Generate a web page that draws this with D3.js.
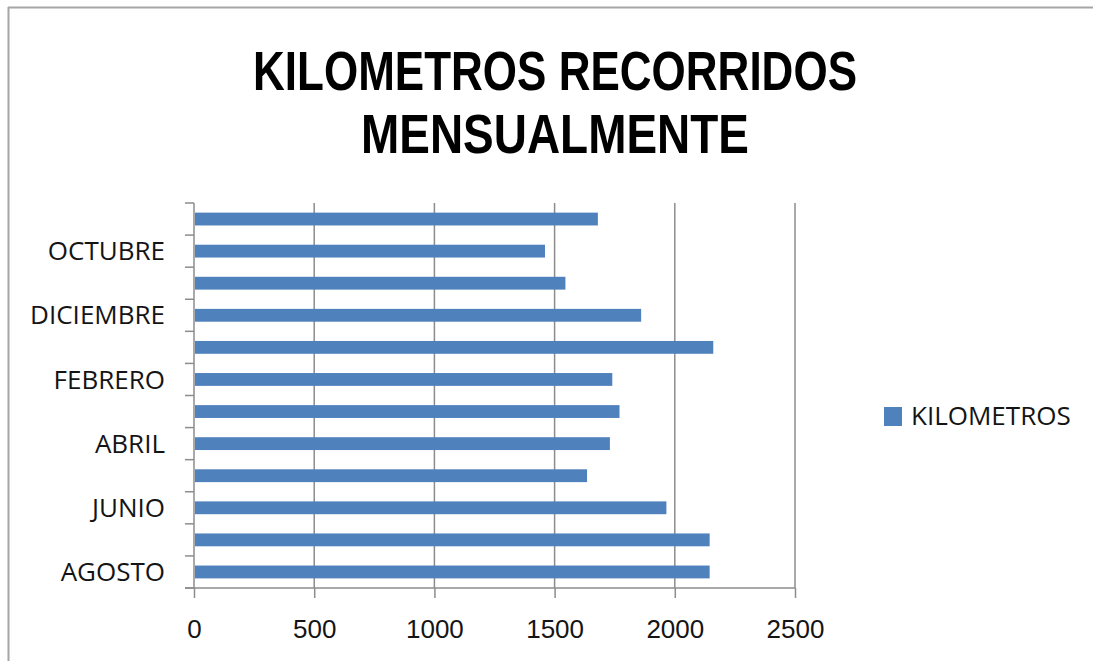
<!DOCTYPE html>
<html>
<head>
<meta charset="utf-8">
<script src="https://cdn.jsdelivr.net/npm/d3@7"></script>
<style>
  html, body { margin: 0; padding: 0; background: #fff; }
  svg { display: block; }
</style>
</head>
<body>
<svg id="chart" width="1093" height="661"></svg>
<script>
// ---- DATA ----
const months = ["SEPTIEMBRE","OCTUBRE","NOVIEMBRE","DICIEMBRE","ENERO","FEBRERO",
                "MARZO","ABRIL","MAYO","JUNIO","JULIO","AGOSTO"];
const kilometros = [1680, 1460, 1545, 1860, 2160, 1740, 1770, 1730, 1635, 1965, 2145, 2145];
const shownLabels = ["OCTUBRE","DICIEMBRE","FEBRERO","ABRIL","JUNIO","AGOSTO"];
const xTicks = [0, 500, 1000, 1500, 2000, 2500];
const titleLines = ["KILOMETROS RECORRIDOS", "MENSUALMENTE"];
const seriesName = "KILOMETROS";

// ---- LAYOUT ----
const svg = d3.select("#chart");
const W = 1093, H = 661;
const plot = { left: 194, right: 795, top: 203, bottom: 588 };
const barColor = "#4F81BD";
const gridColor = "#8c8c8c";
const textColor = "#141414";

// Outer frame (top and left borders)
svg.append("line").attr("x1", 8).attr("x2", W).attr("y1", 7.5).attr("y2", 7.5)
  .attr("stroke", "#a6a6a6").attr("stroke-width", 2);
svg.append("line").attr("x1", 8.5).attr("x2", 8.5).attr("y1", 7).attr("y2", H)
  .attr("stroke", "#a6a6a6").attr("stroke-width", 2);

// Title
const titleG = svg.append("g");
const titleWidths = [604, 388];
titleLines.forEach((t, i) => {
  titleG.append("text")
    .attr("x", 555).attr("y", 90 + i * 63)
    .attr("text-anchor", "middle")
    .attr("font-family", "'Liberation Sans', Arial, sans-serif")
    .attr("font-weight", "bold")
    .attr("font-size", 55)
    .attr("fill", "#000")
    .attr("textLength", titleWidths[i])
    .attr("lengthAdjust", "spacingAndGlyphs")
    .text(t);
});

// Scales
const x = d3.scaleLinear().domain([0, 2500]).range([plot.left, plot.right]);
const y = d3.scaleBand().domain(months).range([plot.top, plot.bottom])
  .paddingInner(0.6).paddingOuter(0.3);
const step = y.step();

// Gridlines
svg.append("g").selectAll("line")
  .data(xTicks.filter(d => d > 0))
  .join("line")
  .attr("x1", d => x(d)).attr("x2", d => x(d))
  .attr("y1", plot.top).attr("y2", plot.bottom)
  .attr("stroke", gridColor).attr("stroke-width", 1.5);

// Bars
svg.append("g").selectAll("rect")
  .data(months.map((m, i) => ({ m, v: kilometros[i] })))
  .join("rect")
  .attr("x", x(0) + 1)
  .attr("y", d => y(d.m))
  .attr("width", d => x(d.v) - x(0) - 1)
  .attr("height", y.bandwidth())
  .attr("fill", barColor);

// Y axis line and ticks (at category boundaries)
svg.append("line").attr("x1", x(0)).attr("x2", x(0))
  .attr("y1", plot.top).attr("y2", plot.bottom)
  .attr("stroke", gridColor).attr("stroke-width", 1.5);
const boundaries = months.map(m => y(m) + y.bandwidth() / 2 - step / 2)
  .concat([y(months[months.length - 1]) + y.bandwidth() / 2 + step / 2]);
svg.append("g").selectAll("line")
  .data(boundaries)
  .join("line")
  .attr("x1", x(0) - 9).attr("x2", x(0))
  .attr("y1", d => d).attr("y2", d => d)
  .attr("stroke", gridColor).attr("stroke-width", 1.5);

// Y labels
svg.append("g").selectAll("text")
  .data(shownLabels)
  .join("text")
  .attr("x", 165)
  .attr("y", d => y(d) + y.bandwidth() / 2)
  .attr("dy", "0.35em")
  .attr("text-anchor", "end")
  .attr("font-family", "'Open Sans', sans-serif")
  .attr("font-size", 26)
  .attr("fill", textColor)
  .text(d => d);

// X axis
const xAxis = d3.axisBottom(x).tickValues(xTicks).tickFormat(d3.format("d"))
  .tickSize(10).tickPadding(22).tickSizeOuter(0);
const xg = svg.append("g").attr("transform", `translate(0,${plot.bottom})`).call(xAxis);
xg.select(".domain").remove();
xg.selectAll(".tick line").attr("stroke", gridColor).attr("stroke-width", 1.5);
xg.selectAll(".tick text")
  .attr("font-family", "'Liberation Sans', Arial, sans-serif")
  .attr("font-size", 26)
  .attr("fill", textColor);
svg.append("line").attr("x1", x(0) - 9).attr("x2", plot.right)
  .attr("y1", plot.bottom).attr("y2", plot.bottom)
  .attr("stroke", gridColor).attr("stroke-width", 1.5);

// Legend
const lg = svg.append("g").attr("transform", "translate(884,407)");
lg.append("rect").attr("width", 18).attr("height", 19).attr("fill", barColor);
lg.append("text").attr("x", 27).attr("y", 18)
  .attr("font-family", "'Open Sans', sans-serif")
  .attr("font-size", 26)
  .attr("fill", textColor)
  .text(seriesName);
</script>
</body>
</html>
